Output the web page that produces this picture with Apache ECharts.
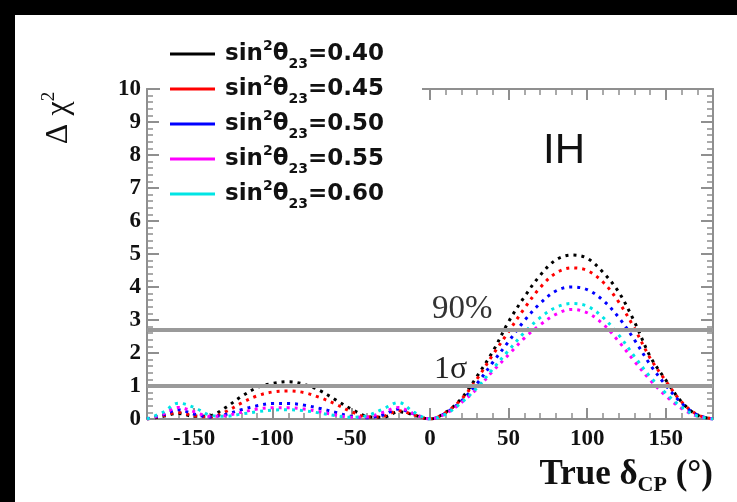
<!DOCTYPE html>
<html>
<head>
<meta charset="utf-8">
<script src="https://cdn.jsdelivr.net/npm/echarts@6/dist/echarts.min.js"></script>
<style>
html,body{margin:0;padding:0;background:#000;width:737px;height:502px;overflow:hidden;}
#chart{position:absolute;left:15px;top:15px;width:722px;height:487px;background:#fff;}
</style>
</head>
<body>
<div id="chart"></div>
<script>
// ---- data ----
const deltaCP = [-180,-170,-160,-150,-140,-130,-120,-110,-100,-90,-80,-70,-60,-50,-40,-30,-20,-10,0,10,20,30,40,50,60,70,80,90,100,110,120,130,140,150,160,170,180];
const s040 = [0,0.08,0.17,0.08,0.10,0.35,0.68,0.95,1.08,1.13,1.05,0.86,0.58,0.30,0.08,0.05,0.22,0.12,0,0.20,0.62,1.30,2.05,2.95,3.70,4.35,4.82,4.97,4.87,4.45,3.85,2.95,1.90,1.18,0.52,0.12,0];
const s045 = [0,0.10,0.20,0.10,0.06,0.22,0.48,0.70,0.82,0.85,0.80,0.65,0.45,0.22,0.06,0.08,0.25,0.12,0,0.20,0.60,1.22,1.95,2.65,3.35,3.98,4.42,4.58,4.50,4.15,3.55,2.75,1.85,1.15,0.52,0.13,0];
const s050 = [0,0.12,0.28,0.15,0.06,0.14,0.28,0.40,0.47,0.47,0.42,0.32,0.20,0.08,0.04,0.12,0.30,0.15,0,0.18,0.55,1.08,1.72,2.35,2.98,3.50,3.88,4.00,3.92,3.60,3.08,2.40,1.65,1.02,0.48,0.12,0];
const s055 = [0,0.15,0.35,0.22,0.08,0.10,0.20,0.30,0.34,0.34,0.30,0.22,0.12,0.05,0.06,0.20,0.35,0.15,0,0.16,0.50,0.92,1.45,1.95,2.45,2.85,3.17,3.32,3.22,2.88,2.35,1.75,1.18,0.70,0.32,0.08,0];
const s060 = [0,0.20,0.48,0.35,0.12,0.08,0.15,0.22,0.27,0.28,0.25,0.18,0.10,0.05,0.10,0.30,0.50,0.20,0,0.15,0.50,0.95,1.52,2.08,2.62,3.07,3.38,3.50,3.42,3.08,2.55,1.90,1.28,0.78,0.36,0.09,0];
const seriesValues = [s040, s045, s050, s055, s060];
const sin2Values = ['0.40','0.45','0.50','0.55','0.60'];
const seriesColors = ['#000000','#ff0000','#0000ff','#ff00ff','#00e5e5'];
const xMajorTicks = [-150,-100,-50,0,50,100,150];
const levels = [2.71, 1.0];
const levelLabels = ['90%', '1σ'];
const hierarchyLabel = 'IH';

// ---- chart ----
const chart = echarts.init(document.getElementById('chart'), null, {renderer:'canvas'});
const axisColor = '#8f8f8f';
const gridRect = {left:132, right:24, top:74, bottom:83};
const labelFont = {fontFamily:'Liberation Serif', fontWeight:'bold', fontSize:23, color:'#111'};

const names = sin2Values.map(v => 'sin²θ₂₃=' + v);

const series = seriesValues.map((vals, i) => ({
  name: names[i],
  type: 'line',
  xAxisIndex: 0, yAxisIndex: 0,
  data: deltaCP.map((x, j) => [x, vals[j]]),
  showSymbol: false,
  smooth: 0.35,
  clip: true,
  color: seriesColors[i],
  lineStyle: {color: seriesColors[i], width: 3, type: [3, 5]},
  z: 3
}));
series.push({
  type: 'line', xAxisIndex: 0, yAxisIndex: 0, data: [], silent: true,
  markLine: {
    silent: true, symbol: 'none', label: {show: false},
    lineStyle: {color: '#9a9a9a', width: 4, type: 'solid'},
    data: levels.map(v => ({yAxis: v}))
  },
  z: 2
});

const lineOpt = {show:true, onZero:false, lineStyle:{color:axisColor, width:2}};
const option = {
  animation: false,
  grid: [Object.assign({}, gridRect), Object.assign({}, gridRect)],
  xAxis: [
    {type:'value', gridIndex:0, position:'bottom', min:-180, max:180,
     axisLine:lineOpt,
     axisTick:{show:true, inside:true, length:11, customValues:xMajorTicks, lineStyle:{color:axisColor, width:2}},
     axisLabel:{show:true, customValues:xMajorTicks, margin:9, ...labelFont},
     splitLine:{show:false}},
    {type:'value', gridIndex:0, position:'top', min:-180, max:180,
     axisLine:lineOpt,
     axisTick:{show:true, inside:true, length:11, customValues:xMajorTicks, lineStyle:{color:axisColor, width:2}},
     axisLabel:{show:false}, splitLine:{show:false}},
    {type:'value', gridIndex:1, position:'bottom', min:-180, max:180, interval:10,
     axisLine:{show:false, onZero:false}, axisTick:{show:true, inside:true, length:6, lineStyle:{color:axisColor, width:1.5}},
     axisLabel:{show:false}, splitLine:{show:false}},
    {type:'value', gridIndex:1, position:'top', min:-180, max:180, interval:10,
     axisLine:{show:false, onZero:false}, axisTick:{show:true, inside:true, length:6, lineStyle:{color:axisColor, width:1.5}},
     axisLabel:{show:false}, splitLine:{show:false}}
  ],
  yAxis: [
    {type:'value', gridIndex:0, position:'left', min:0, max:10, interval:1,
     axisLine:lineOpt,
     axisTick:{show:true, inside:true, length:12, lineStyle:{color:axisColor, width:2}},
     minorTick:{show:true, splitNumber:5, length:6, lineStyle:{color:axisColor, width:1.5}},
     axisLabel:{show:true, margin:6, ...labelFont},
     splitLine:{show:false}},
    {type:'value', gridIndex:0, position:'right', min:0, max:10, interval:1,
     axisLine:lineOpt,
     axisTick:{show:true, inside:true, length:12, lineStyle:{color:axisColor, width:2}},
     minorTick:{show:true, splitNumber:5, length:6, lineStyle:{color:axisColor, width:1.5}},
     axisLabel:{show:false}, splitLine:{show:false}},
    {type:'value', gridIndex:1, min:0, max:10, show:false}
  ],
  legend: {
    orient:'vertical', left:145, top:17,
    data: names,
    icon:'rect', itemWidth:45, itemHeight:3, itemGap:1,
    backgroundColor:'#ffffff', padding:[5,38,5,10],
    formatter: function(name){
      const v = name.split('=')[1];
      return '{g|}{a|sin}{sup|2}{a|θ}{sub|23}{a|=' + v + '}';
    },
    textStyle:{
      color:'#111', fontFamily:'DejaVu Sans', fontWeight:'bold', fontSize:23,
      rich:{
        g:{width:5, lineHeight:34},
        a:{fontFamily:'DejaVu Sans', fontWeight:'bold', fontSize:23, color:'#111', lineHeight:34, verticalAlign:'middle'},
        sup:{fontFamily:'DejaVu Sans', fontWeight:'bold', fontSize:14, color:'#111', lineHeight:34, verticalAlign:'top', padding:[2,0,0,0]},
        sub:{fontFamily:'DejaVu Sans', fontWeight:'bold', fontSize:14, color:'#111', lineHeight:34, verticalAlign:'bottom'}
      }
    }
  },
  graphic: [
    {type:'text', x:44, y:103, rotation:Math.PI/2,
     style:{text:'{a|Δ χ}{s|2}', align:'center', verticalAlign:'middle',
            rich:{a:{fontFamily:'Liberation Serif', fontSize:32, fill:'#111', lineHeight:38, verticalAlign:'middle'},
                  s:{fontFamily:'Liberation Serif', fontSize:19, fill:'#111', lineHeight:38, verticalAlign:'top'}}}},
    {type:'text', x:698, y:460,
     style:{text:'{a|True δ}{s|CP}{a| (°)}', align:'right', verticalAlign:'middle',
            rich:{a:{fontFamily:'Liberation Serif', fontWeight:'bold', fontSize:35, fill:'#111', lineHeight:42, verticalAlign:'middle'},
                  s:{fontFamily:'Liberation Serif', fontWeight:'bold', fontSize:22, fill:'#111', lineHeight:42, verticalAlign:'bottom'}}}},
    {type:'text', x:417, y:294, style:{text:levelLabels[0], fontFamily:'Liberation Serif', fontSize:33, fill:'#333', align:'left', verticalAlign:'middle'}},
    {type:'text', x:419, y:355, style:{text:levelLabels[1], fontFamily:'Liberation Serif', fontSize:32, fill:'#222', align:'left', verticalAlign:'middle'}},
    {type:'text', x:528, y:136, style:{text:hierarchyLabel, fontFamily:'Liberation Sans', fontSize:42, fill:'#111', align:'left', verticalAlign:'middle'}}
  ],
  series: series
};
chart.setOption(option);
</script>
</body>
</html>
